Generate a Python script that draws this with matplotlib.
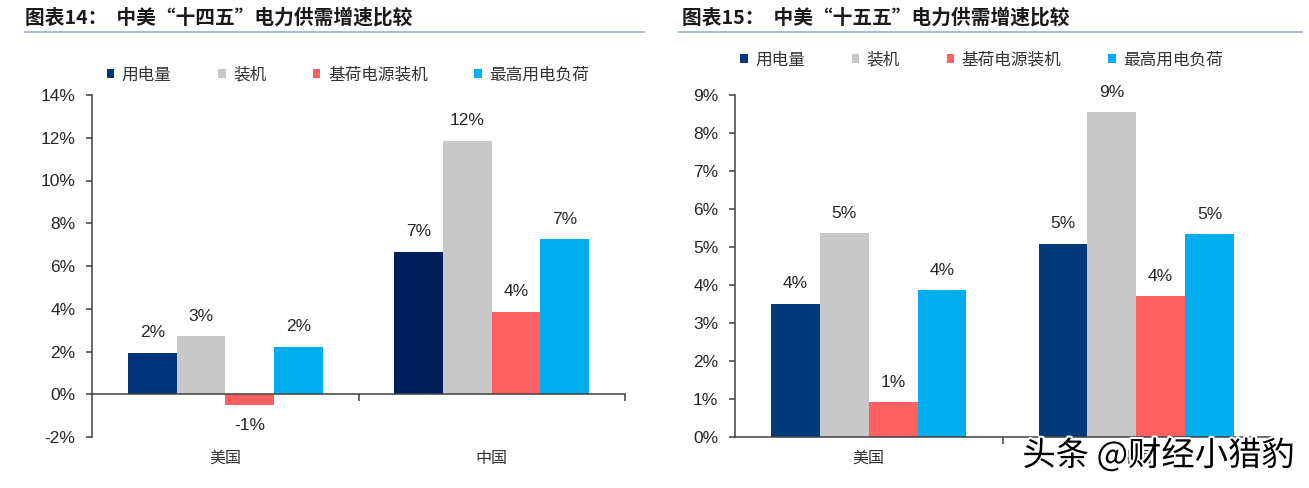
import numpy as np
import matplotlib
matplotlib.use('Agg')
from matplotlib import pyplot as plt
from matplotlib.ticker import FormatStrFormatter
from matplotlib.lines import Line2D
import matplotlib.patheffects as pe

plt.rcParams['font.family'] = ['Liberation Sans', 'Noto Sans CJK SC', 'DejaVu Sans']
CJK = ['Noto Sans CJK SC', 'DejaVu Sans']

# datos
categorias = ['美国', '中国']
series = ['用电量', '装机', '基荷电源装机', '最高用电负荷']

# 十四五 (%)
v14_uso = [1.95, 6.67]
v14_inst = [2.72, 11.85]
v14_base = [-0.48, 3.86]
v14_pico = [2.22, 7.25]
etq14 = [['2%', '7%'], ['3%', '12%'], ['-1%', '4%'], ['2%', '7%']]

# 十五五 (%)
v15_uso = [3.50, 5.09]
v15_inst = [5.36, 8.55]
v15_base = [0.91, 3.70]
v15_pico = [3.86, 5.33]
etq15 = [['4%', '5%'], ['5%', '9%'], ['1%', '4%'], ['4%', '5%']]

titulo14 = '图表14：  中美“十四五”电力供需增速比较'
titulo15 = '图表15：  中美“十五五”电力供需增速比较'

colores = ['#003A7A', '#C8C8C8', '#FF6161', '#00AEEF']
eje_color = '#404040'
w = 0.1825


def dibujar(ax, valores, etiquetas, ylim, yticks, colores_uso, leg_x, leg_y):
    x = np.arange(len(categorias))
    for i, vals in enumerate(valores):
        col = colores[i] if i != 0 else colores_uso
        ax.bar(x + (i - 1.5) * w, vals, w, color=col, label=series[i], zorder=2)
        for j, v in enumerate(vals):
            if v >= 0:
                ax.annotate(etiquetas[i][j], (x[j] + (i - 1.5) * w, v), xytext=(0, 9),
                            textcoords='offset points', ha='center', va='bottom',
                            fontsize=12.5, color='#262626')
            else:
                ax.annotate(etiquetas[i][j], (x[j] + (i - 1.5) * w, v), xytext=(0, -10),
                            textcoords='offset points', ha='center', va='top',
                            fontsize=12.5, color='#262626')
    ax.set_xlim(-0.5, 1.5)
    ax.set_ylim(*ylim)
    ax.set_yticks(yticks)
    ax.yaxis.set_major_formatter(FormatStrFormatter('%d%%'))
    ax.set_xticks([0.5, 1.5])
    ax.set_xticklabels([])
    ax.spines['top'].set_visible(False)
    ax.spines['right'].set_visible(False)
    ax.spines['bottom'].set_position(('data', 0))
    for s in ['left', 'bottom']:
        ax.spines[s].set_color(eje_color)
        ax.spines[s].set_linewidth(1.1)
    ax.tick_params(axis='y', direction='out', length=4, width=1.1, color=eje_color,
                   pad=8, labelsize=12.5, labelcolor='#262626')
    ax.tick_params(axis='x', direction='out', length=5, width=1.1, color=eje_color)
    for j, c in enumerate(categorias):
        ax.text(x[j], -0.062, c, transform=ax.get_xaxis_transform(), ha='center', va='center',
                fontsize=11.5, color='#333333', family=CJK)
    leg = ax.legend(loc='center', bbox_to_anchor=(leg_x, leg_y), ncol=4, frameon=False,
                    handlelength=0.45, handleheight=0.45, handletextpad=0.45,
                    columnspacing=2.8, prop={'family': CJK, 'size': 12})
    for t in leg.get_texts():
        t.set_color('#333333')


fig = plt.figure(figsize=(13.09, 4.88), dpi=100)
ax1 = fig.add_axes([92 / 1309, 1 - 437 / 488, 533 / 1309, 342 / 488])
ax2 = fig.add_axes([735 / 1309, 1 - 437 / 488, 535 / 1309, 342 / 488])

dibujar(ax1, [v14_uso, v14_inst, v14_base, v14_pico], etq14, (-2, 14), range(-2, 15, 2),
        '#003478', 0.48, 1.058)
# el 用电量 de China va un poco mas oscuro en el grafico 14
ax1.patches[1].set_facecolor('#001F5B')
dibujar(ax2, [v15_uso, v15_inst, v15_base, v15_pico], etq15, (0, 9), range(0, 10),
        '#003A7A', 0.461, 1.102)

# titulos y linea
fig.text(25 / 1309, 1 - 18 / 488, titulo14, fontsize=14.2, fontweight='bold', family=CJK,
         va='center', ha='left', color='#1A1A1A')
fig.text(682 / 1309, 1 - 18 / 488, titulo15, fontsize=14.2, fontweight='bold', family=CJK,
         va='center', ha='left', color='#1A1A1A')
fig.add_artist(Line2D([25 / 1309, 644 / 1309], [1 - 32 / 488, 1 - 32 / 488], color='#A3B5CB', lw=1.3))
fig.add_artist(Line2D([679 / 1309, 1302 / 1309], [1 - 32 / 488, 1 - 32 / 488], color='#A3B5CB', lw=1.3))

# marca de agua
fig.text(1295 / 1309, 1 - 456 / 488, '头条 @财经小猎豹', fontsize=24, family=CJK, ha='right', va='center',
         color='black', path_effects=[pe.withStroke(linewidth=3, foreground='white')])

fig.savefig('out.png', dpi=100)
